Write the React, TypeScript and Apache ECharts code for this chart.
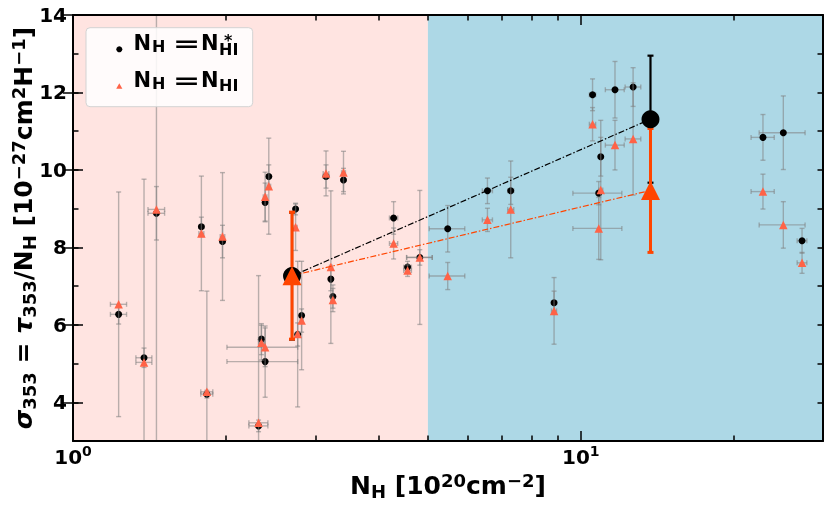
import React, { useEffect, useRef } from "react";
import * as echarts from "echarts";

// ---- data ----
const N_H = [1.23, 1.38, 1.46, 1.79, 1.835, 1.97, 2.32, 2.35, 2.39, 2.39, 2.43, 2.744, 2.77, 2.82, 3.22, 3.25, 3.15, 3.41, 4.28, 4.56, 4.82, 5.47, 6.55, 7.28, 8.86, 10.55, 10.95, 10.85, 11.68, 12.68, 22.85, 25.06, 27.28];
const SIGMA_HI_STAR = [6.27, 5.15, 8.88, 8.53, 4.21, 8.15, 3.39, 5.63, 5.05, 9.16, 9.83, 8.99, 5.75, 6.24, 7.18, 6.73, 9.83, 9.74, 8.76, 7.49, 7.74, 8.48, 9.46, 9.46, 6.57, 11.94, 10.34, 9.40, 12.07, 12.14, 10.84, 10.96, 8.17];
const SIGMA_HI = [6.53, 5.03, 8.98, 8.36, 4.27, 8.28, 3.47, 5.54, 5.42, 9.31, 9.58, 8.52, 5.76, 6.11, 7.49, 6.64, 9.91, 9.93, 8.10, 7.40, 7.74, 7.26, 8.71, 8.98, 6.36, 11.18, 9.48, 8.49, 10.64, 10.80, 9.44, 8.58, 7.60];
const XERR = [0.045, 0.05, 0.055, 0.02, 0.05, 0.02, 0.1, 0.03, 0.38, 0.02, 0.02, 0.02, 0.02, 0.02, 0.02, 0.02, 0.04, 0.03, 0.08, 0.08, 0.28, 0.44, 0.15, 0.1, 0.1, 0.15, 0.1, 1.2, 0.5, 0.45, 1.2, 2.6, 0.6];
const YERR_HI_STAR = [0.25, 0.25, 0.69, 0.25, 0.1, 0.42, 0.15, 0.4, 0.92, 0.5, 0.3, 0.15, 0.3, 1.4, 0.3, 0.3, 0.3, 0.3, 0.42, 0.15, 0.2, 0.6, 0.33, 0.35, 0.3, 0.41, 0.5, 0.3, 0.73, 0.5, 0.59, 0.95, 0.32];
const YERR_HI = [2.9, 4.73, 6.0, 1.48, 2.6, 1.65, 3.8, 0.45, 0.5, 0.63, 1.24, 0.6, 1.88, 0.3, 1.97, 0.3, 0.58, 0.55, 0.4, 0.15, 1.73, 0.35, 0.3, 1.25, 0.86, 0.43, 1.8, 0.8, 0.64, 1.45, 0.45, 0.6, 0.27];

const BIN_N = [2.7, 13.72];
const BIN_SIGMA_HI_STAR = [7.26, 11.31];
const BIN_SIGMA_HI = [7.27, 9.47];
const BIN_YERR_HI_STAR = [1.64, 1.64];
const BIN_YERR_HI = [1.64, 1.6];

const X_MIN = 1;
const X_MAX = 30;
const X_SPLIT = 5;
const Y_MIN = 3;
const Y_MAX = 14;
const X_MAJOR_TICKS = [1, 10];
const X_MINOR_TICKS = [2, 3, 4, 5, 6, 7, 8, 9, 20];
const Y_MAJOR_TICKS = [4, 6, 8, 10, 12, 14];

const lg = (v: number) => Math.log10(v);
const FONT = "DejaVu Sans";
const ORANGE = "#ff4500";
const TOMATO = "#ff6347";

function errData(ns: number[], ss: number[], xe: number[], ye: number[]) {
  return ns.map((n, i) => [lg(n), ss[i], lg(n - xe[i]), lg(n + xe[i]), ss[i] - ye[i], ss[i] + ye[i]]);
}

function errRender(capHalf: number, color: string, width: number) {
  return (params: any, api: any) => {
    const x = api.value(0), y = api.value(1);
    const xl = api.value(2), xh = api.value(3), yl = api.value(4), yh = api.value(5);
    const pb = api.coord([x, yl]);
    const pt = api.coord([x, yh]);
    const style = { stroke: color, lineWidth: width, fill: "none" };
    const children: any[] = [
      { type: "line", shape: { x1: pb[0], y1: pb[1], x2: pt[0], y2: pt[1] }, style },
      { type: "line", shape: { x1: pb[0] - capHalf, y1: pb[1], x2: pb[0] + capHalf, y2: pb[1] }, style },
      { type: "line", shape: { x1: pt[0] - capHalf, y1: pt[1], x2: pt[0] + capHalf, y2: pt[1] }, style },
    ];
    if (xh > xl) {
      const pl = api.coord([xl, y]);
      const ph = api.coord([xh, y]);
      children.push(
        { type: "line", shape: { x1: pl[0], y1: pl[1], x2: ph[0], y2: ph[1] }, style },
        { type: "line", shape: { x1: pl[0], y1: pl[1] - capHalf, x2: pl[0], y2: pl[1] + capHalf }, style },
        { type: "line", shape: { x1: ph[0], y1: ph[1] - capHalf, x2: ph[0], y2: ph[1] + capHalf }, style }
      );
    }
    return { type: "group", children };
  };
}

const txt = (s: string, x: number, y: number, size: number, lineHeight: number, extra: any = {}) => ({
  type: "text",
  x,
  y,
  z: 100,
  ...extra,
  style: {
    text: s,
    fill: "#000",
    fontFamily: FONT,
    fontWeight: "bold",
    fontSize: size,
    lineHeight,
    textAlign: "left",
    verticalAlign: "middle",
    textVerticalAlign: "middle",
  },
});

// superscript "*" stacked over subscript "HI" in one text element
const starHI = (x: number, yTop: number) => ({
  type: "text",
  x,
  y: yTop,
  z: 100,
  style: {
    text: "{a|*}\n{b|HI}",
    textAlign: "left",
    verticalAlign: "top",
    textVerticalAlign: "top",
    rich: {
      a: { fontSize: 16, fontFamily: FONT, fontWeight: "bold", fill: "#000", color: "#000", lineHeight: 7, padding: [0, 0, 0, 5] },
      b: { fontSize: 16, fontFamily: FONT, fontWeight: "bold", fill: "#000", color: "#000", lineHeight: 11 },
    },
  },
});

export default function App() {
  const ref = useRef<HTMLDivElement>(null);
  useEffect(() => {
    if (!ref.current) return;
    const chart = echarts.init(ref.current, undefined, { renderer: "svg" });
    const axisLineStyle = { color: "#000", width: 2 };
    const tickStyle = { color: "#000", width: 1.5 };
    const xBase = { type: "value", min: lg(X_MIN), max: lg(X_MAX), splitLine: { show: false }, z: 10 };
    const yBase = { type: "value", min: Y_MIN, max: Y_MAX, interval: 1, splitLine: { show: false }, z: 10 };
    const xNameRich = {
      n: { fontSize: 25, fontWeight: "bold", fontFamily: FONT, color: "#000", lineHeight: 29 },
      s: { fontSize: 18, fontWeight: "bold", fontFamily: FONT, color: "#000", lineHeight: 18, verticalAlign: "bottom" },
      p: { fontSize: 18, fontWeight: "bold", fontFamily: FONT, color: "#000", lineHeight: 18, verticalAlign: "top" },
    };
    const yNameRich = {
      n: { fontSize: 25, fontWeight: "bold", fontFamily: FONT, color: "#000", lineHeight: 29 },
      g: { fontSize: 25, fontWeight: "bold", fontStyle: "italic", fontFamily: FONT, color: "#000", lineHeight: 29 },
      s: { fontSize: 18, fontWeight: "bold", fontFamily: FONT, color: "#000", lineHeight: 18, verticalAlign: "bottom" },
      p: { fontSize: 18, fontWeight: "bold", fontFamily: FONT, color: "#000", lineHeight: 20, verticalAlign: "top" },
    };
    const majorX = X_MAJOR_TICKS.map(lg);
    const minorX = X_MINOR_TICKS.map(lg);

    const option: any = {
      animation: false,
      grid: { left: 73, right: 7, top: 15, bottom: 72, containLabel: false, outerBoundsMode: "none" },
      xAxis: [
        {
          ...xBase,
          position: "bottom",
          axisLine: { show: true, onZero: false, lineStyle: axisLineStyle },
          axisTick: { show: true, inside: true, length: 10, lineStyle: tickStyle, customValues: majorX },
          axisLabel: {
            show: true,
            customValues: majorX,
            margin: 3,
            showMinLabel: true,
            showMaxLabel: true,
            formatter: (v: number) => `{a|10}{b|${Math.round(v)}}`,
            rich: {
              a: { fontSize: 20, fontWeight: "bold", fontFamily: FONT, color: "#000", lineHeight: 26 },
              b: { fontSize: 14, fontWeight: "bold", fontFamily: FONT, color: "#000", lineHeight: 14, verticalAlign: "top" },
            },
          },
          name: "{n|N}{s|H}{n| [10}{p|20}{n|cm}{p|−2}{n|]}",
          nameLocation: "middle",
          nameGap: 30,
          nameMoveOverlap: false,
          nameTextStyle: { fontSize: 25, fontFamily: FONT, fontWeight: "bold", color: "#000", rich: xNameRich },
        },
        {
          ...xBase,
          position: "bottom",
          axisLine: { show: false },
          axisTick: { show: true, inside: true, length: 5.5, lineStyle: tickStyle, customValues: minorX },
          axisLabel: { show: false },
        },
        {
          ...xBase,
          position: "top",
          axisLine: { show: true, onZero: false, lineStyle: axisLineStyle },
          axisTick: { show: true, inside: true, length: 10, lineStyle: tickStyle, customValues: majorX },
          axisLabel: { show: false },
        },
        {
          ...xBase,
          position: "top",
          axisLine: { show: false },
          axisTick: { show: true, inside: true, length: 5.5, lineStyle: tickStyle, customValues: minorX },
          axisLabel: { show: false },
        },
      ],
      yAxis: [
        {
          ...yBase,
          position: "left",
          axisLine: { show: true, onZero: false, lineStyle: axisLineStyle },
          axisTick: { show: true, inside: true, length: 5.5, lineStyle: tickStyle },
          axisLabel: {
            show: true,
            customValues: Y_MAJOR_TICKS,
            margin: 6,
            fontSize: 20,
            fontWeight: "bold",
            fontFamily: FONT,
            color: "#000",
          },
          name: "{g|σ}{s|353}{n| = }{g|τ}{s|353}{n|/N}{s|H}{n| [10}{p|−27}{n|cm}{p|2}{n|H}{p|−1}{n|]}",
          nameLocation: "middle",
          nameRotate: 90,
          nameGap: 35,
          nameMoveOverlap: false,
          nameTextStyle: { fontSize: 25, fontFamily: FONT, fontWeight: "bold", color: "#000", rich: yNameRich },
        },
        {
          ...yBase,
          position: "left",
          axisLine: { show: false },
          axisTick: { show: true, inside: true, length: 10, lineStyle: tickStyle, customValues: Y_MAJOR_TICKS },
          axisLabel: { show: false },
        },
        {
          ...yBase,
          position: "right",
          axisLine: { show: true, onZero: false, lineStyle: axisLineStyle },
          axisTick: { show: true, inside: true, length: 5.5, lineStyle: tickStyle },
          axisLabel: { show: false },
        },
        {
          ...yBase,
          position: "right",
          axisLine: { show: false },
          axisTick: { show: true, inside: true, length: 10, lineStyle: tickStyle, customValues: Y_MAJOR_TICKS },
          axisLabel: { show: false },
        },
      ],
      series: [
        {
          type: "line",
          z: 0,
          silent: true,
          symbol: "none",
          data: [[lg(X_MIN), Y_MIN]],
          lineStyle: { opacity: 0 },
          markArea: {
            silent: true,
            data: [
              [{ xAxis: lg(X_MIN), itemStyle: { color: "#ffe4e1", opacity: 1 } }, { xAxis: lg(X_SPLIT) }],
              [{ xAxis: lg(X_SPLIT), itemStyle: { color: "#add8e6", opacity: 1 } }, { xAxis: lg(X_MAX) }],
            ],
          },
        },
        {
          type: "custom",
          z: 2,
          clip: true,
          silent: true,
          renderItem: errRender(2.5, "rgba(128,128,128,0.55)", 1.4),
          encode: { x: 0, y: 1 },
          data: errData(N_H, SIGMA_HI_STAR, XERR, YERR_HI_STAR),
        },
        {
          type: "scatter",
          name: "NHI*",
          z: 3,
          symbol: "circle",
          symbolSize: 7,
          itemStyle: { color: "#000", opacity: 1 },
          data: N_H.map((n, i) => [lg(n), SIGMA_HI_STAR[i]]),
        },
        {
          type: "custom",
          z: 4,
          clip: true,
          silent: true,
          renderItem: errRender(2.5, "rgba(128,128,128,0.55)", 1.4),
          encode: { x: 0, y: 1 },
          data: errData(N_H, SIGMA_HI, XERR, YERR_HI),
        },
        {
          type: "scatter",
          name: "NHI",
          z: 5,
          symbol: "triangle",
          symbolSize: 8.5,
          itemStyle: { color: TOMATO, opacity: 1 },
          data: N_H.map((n, i) => [lg(n), SIGMA_HI[i]]),
        },
        {
          type: "line",
          z: 6,
          symbol: "none",
          lineStyle: { color: "#000", width: 1.2, type: [6, 2, 1.5, 2] },
          data: BIN_N.map((n, i) => [lg(n), BIN_SIGMA_HI_STAR[i]]),
        },
        {
          type: "line",
          z: 6,
          symbol: "none",
          lineStyle: { color: ORANGE, width: 1.2, type: [6, 2, 1.5, 2] },
          data: BIN_N.map((n, i) => [lg(n), BIN_SIGMA_HI[i]]),
        },
        {
          type: "custom",
          z: 7,
          clip: true,
          silent: true,
          renderItem: errRender(3, "#000", 2.2),
          encode: { x: 0, y: 1 },
          data: errData(BIN_N, BIN_SIGMA_HI_STAR, [0, 0], BIN_YERR_HI_STAR),
        },
        {
          type: "custom",
          z: 8,
          clip: true,
          silent: true,
          renderItem: errRender(3, ORANGE, 3),
          encode: { x: 0, y: 1 },
          data: errData(BIN_N, BIN_SIGMA_HI, [0, 0], BIN_YERR_HI),
        },
        {
          type: "scatter",
          z: 9,
          symbol: "circle",
          symbolSize: 18,
          itemStyle: { color: "#000", opacity: 1 },
          data: BIN_N.map((n, i) => [lg(n), BIN_SIGMA_HI_STAR[i]]),
        },
        {
          type: "scatter",
          z: 10,
          symbol: "triangle",
          symbolSize: 19,
          itemStyle: { color: ORANGE, opacity: 1 },
          data: BIN_N.map((n, i) => [lg(n), BIN_SIGMA_HI[i]]),
        },
      ],
      graphic: {
        elements: [
          {
            type: "rect",
            z: 99,
            shape: { x: 86, y: 27.7, width: 166.7, height: 79, r: 4 },
            style: { fill: "rgba(255,255,255,0.85)", stroke: "#d3d3d3", lineWidth: 1 },
          },
          { type: "circle", z: 100, shape: { cx: 119.3, cy: 49.3, r: 3 }, style: { fill: "#000" } },
          {
            type: "polygon",
            z: 100,
            shape: { points: [[116.2, 88.8], [122.4, 88.8], [119.3, 83.2]] },
            style: { fill: TOMATO },
          },
          txt("N", 133.5, 43.2, 21, 18),
          txt("H", 152, 46.8, 16, 12),
          txt("=", 172.7, 43.5, 22, 12, { scaleX: 1.5 }),
          txt("N", 201, 43.2, 21, 18),
          starHI(219, 36.5),
          txt("N", 133.5, 80.2, 21, 18),
          txt("H", 152, 83.8, 16, 12),
          txt("=", 172.7, 81, 22, 12, { scaleX: 1.5 }),
          txt("N", 201, 80.2, 21, 18),
          txt("HI", 219, 85.2, 16, 11),
        ],
      },
    };
    chart.setOption(option);
    return () => chart.dispose();
  }, []);
  return <div ref={ref} style={{ position: "fixed", left: 0, top: 0, width: 830, height: 513 }} />;
}
